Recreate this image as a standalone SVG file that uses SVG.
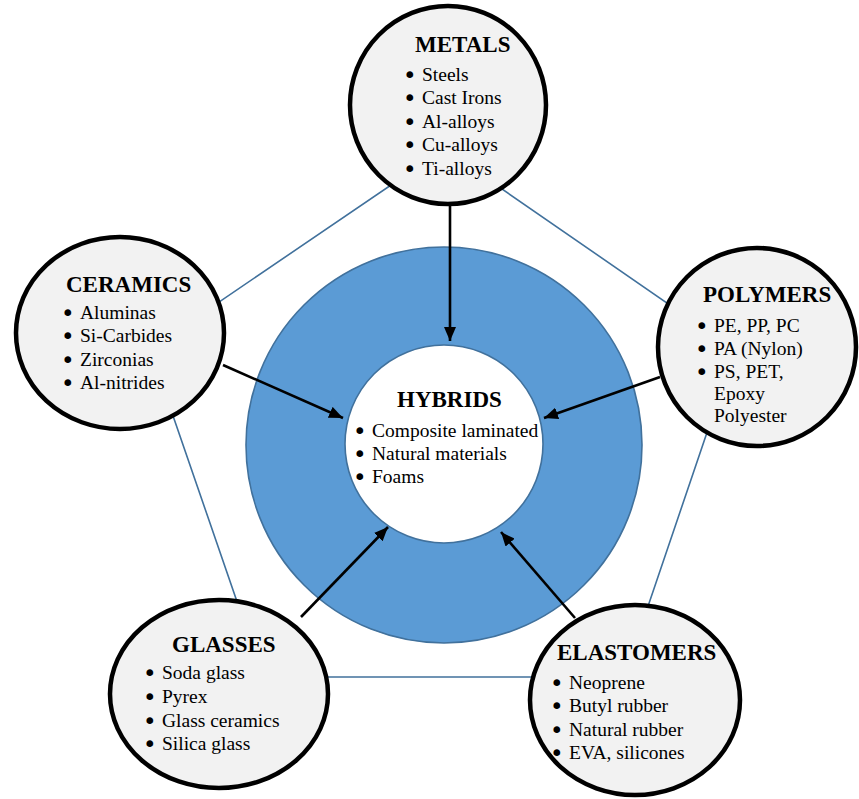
<svg xmlns="http://www.w3.org/2000/svg" width="859" height="799" viewBox="0 0 859 799">
<style>
.node{fill:#f2f2f2;stroke:#000;stroke-width:4.5}
.edge{fill:none;stroke:#41719c;stroke-width:1.6}
.arr{fill:none;stroke:#000;stroke-width:2.6;marker-end:url(#ah)}
text{font-family:"Liberation Serif","Times New Roman",serif;fill:#000}
.t{font-size:23px;font-weight:bold}
.i{font-size:19.5px}
.b{font-family:"DejaVu Sans",sans-serif;font-size:23px}
</style>
<defs>
<marker id="ah" markerUnits="userSpaceOnUse" markerWidth="14" markerHeight="12" refX="14" refY="6" orient="auto">
<path d="M0,0 L14,6 L0,12 z" fill="#000"/>
</marker>
</defs>
<rect width="859" height="799" fill="#fff"/>
<g id="pentagon">
<polygon class="edge" points="444,149 150,349 263,677 624,677 735,350"/>
</g>
<g id="hybrids">
<circle cx="444" cy="445" r="198" fill="#5b9bd5" stroke="#41719c" stroke-width="1.6"/>
<circle cx="444" cy="444" r="99" fill="#fff" stroke="#41719c" stroke-width="1.6"/>
<text class="t" x="397" y="407">HYBRIDS</text>
<text class="i"><tspan class="b" x="353" y="439">•</tspan><tspan x="372" y="437">Composite laminated</tspan><tspan class="b" x="353" y="462">•</tspan><tspan x="372" y="460">Natural materials</tspan><tspan class="b" x="353" y="485">•</tspan><tspan x="372" y="483">Foams</tspan></text>
</g>
<g id="connectors">
<line class="arr" x1="450" y1="200" x2="450" y2="341"/>
<line class="arr" x1="223" y1="365" x2="343" y2="418"/>
<line class="arr" x1="660" y1="377" x2="544" y2="418"/>
<line class="arr" x1="301" y1="617" x2="388" y2="527"/>
<line class="arr" x1="575" y1="618" x2="501" y2="532"/>
</g>
<g id="metals">
<ellipse class="node" cx="448" cy="105" rx="98" ry="99"/>
<text class="t" x="415" y="52">METALS</text>
<text class="i"><tspan class="b" x="403" y="83">•</tspan><tspan x="422" y="81">Steels</tspan><tspan class="b" x="403" y="106">•</tspan><tspan x="422" y="104">Cast Irons</tspan><tspan class="b" x="403" y="130">•</tspan><tspan x="422" y="128">Al-alloys</tspan><tspan class="b" x="403" y="153">•</tspan><tspan x="422" y="151">Cu-alloys</tspan><tspan class="b" x="403" y="177">•</tspan><tspan x="422" y="175">Ti-alloys</tspan></text>
</g>
<g id="ceramics">
<ellipse class="node" cx="120" cy="333" rx="104" ry="96"/>
<text class="t" x="66" y="292">CERAMICS</text>
<text class="i"><tspan class="b" x="61" y="321">•</tspan><tspan x="80" y="319">Aluminas</tspan><tspan class="b" x="61" y="344">•</tspan><tspan x="80" y="342">Si-Carbides</tspan><tspan class="b" x="61" y="368">•</tspan><tspan x="80" y="366">Zirconias</tspan><tspan class="b" x="61" y="391">•</tspan><tspan x="80" y="389">Al-nitrides</tspan></text>
</g>
<g id="polymers">
<ellipse class="node" cx="757" cy="347" rx="99" ry="99"/>
<text class="t" x="703" y="302">POLYMERS</text>
<text class="i"><tspan class="b" x="695" y="334">•</tspan><tspan x="714" y="332">PE, PP, PC</tspan><tspan class="b" x="695" y="357">•</tspan><tspan x="714" y="355">PA (Nylon)</tspan><tspan class="b" x="695" y="380">•</tspan><tspan x="714" y="378">PS, PET,</tspan><tspan x="714" y="400">Epoxy</tspan><tspan x="714" y="422">Polyester</tspan></text>
</g>
<g id="glasses">
<ellipse class="node" cx="219" cy="694" rx="109" ry="94"/>
<text class="t" x="172" y="652">GLASSES</text>
<text class="i"><tspan class="b" x="143" y="681">•</tspan><tspan x="162" y="679">Soda glass</tspan><tspan class="b" x="143" y="705">•</tspan><tspan x="162" y="703">Pyrex</tspan><tspan class="b" x="143" y="729">•</tspan><tspan x="162" y="727">Glass ceramics</tspan><tspan class="b" x="143" y="752">•</tspan><tspan x="162" y="750">Silica glass</tspan></text>
</g>
<g id="elastomers">
<ellipse class="node" cx="635" cy="700" rx="105" ry="95"/>
<text class="t" x="557" y="660">ELASTOMERS</text>
<text class="i"><tspan class="b" x="550" y="691">•</tspan><tspan x="569" y="689">Neoprene</tspan><tspan class="b" x="550" y="714">•</tspan><tspan x="569" y="712">Butyl rubber</tspan><tspan class="b" x="550" y="738">•</tspan><tspan x="569" y="736">Natural rubber</tspan><tspan class="b" x="550" y="761">•</tspan><tspan x="569" y="759">EVA, silicones</tspan></text>
</g>
</svg>
